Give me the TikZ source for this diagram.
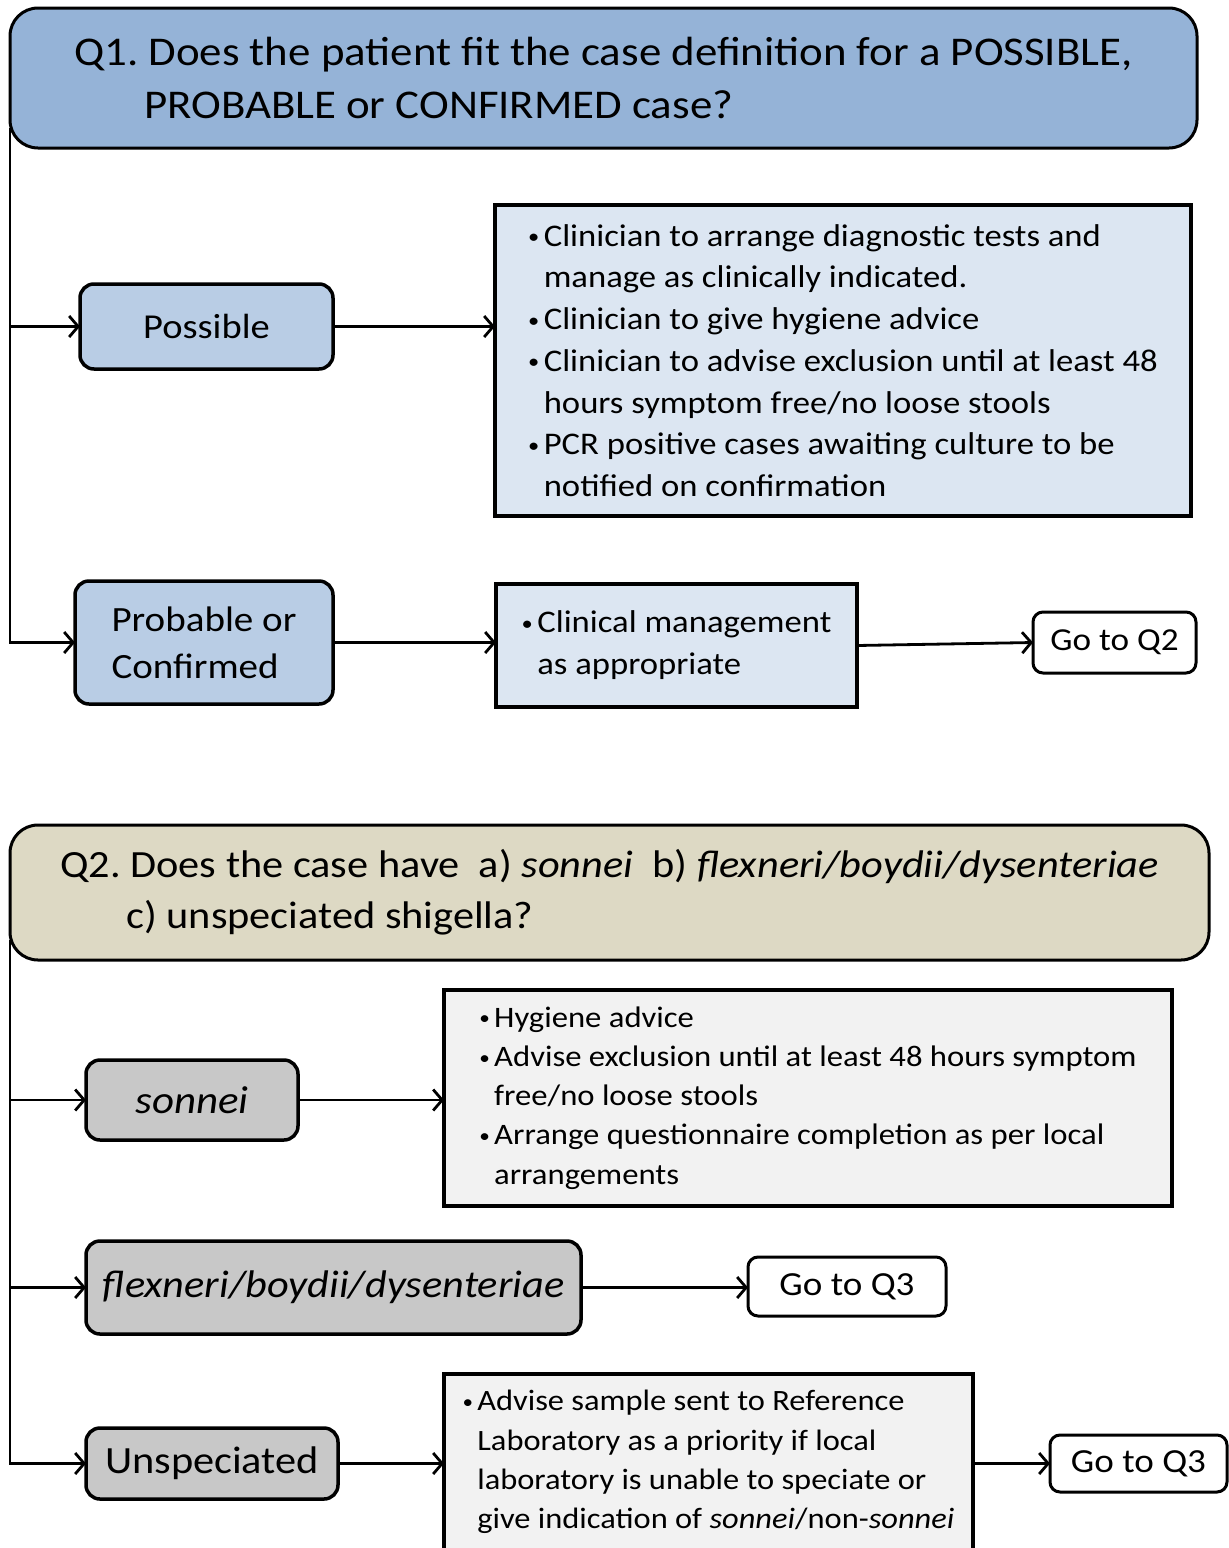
\documentclass[tikz,border=0pt]{standalone}
\usepackage{fontspec}
\setmainfont{Carlito}[FakeStretch=1.1]
\usetikzlibrary{arrows.meta, positioning}

\definecolor{qonefill}{HTML}{95B3D7}
\definecolor{casefill}{HTML}{B9CDE5}
\definecolor{adviceblue}{HTML}{DCE6F2}
\definecolor{qtwofill}{HTML}{DDD9C4}
\definecolor{typefill}{HTML}{C8C8C8}
\definecolor{advicegrey}{HTML}{F2F2F2}

\newcommand{\bul}{\makebox[0.5em][l]{\raisebox{0.08em}{\scalebox{0.65}{\textbullet}}}}
\newcommand{\ind}{\hspace*{0.5em}}
\frenchspacing

\begin{document}
\begin{tikzpicture}[x=1pt, y=-1pt,
    question/.style={draw, line width=3pt, rounded corners=28pt, anchor=north west, outer sep=0pt, inner sep=0pt, align=left},
    choice/.style={draw, line width=3.5pt, rounded corners=14pt, anchor=north west, outer sep=0pt, inner sep=0pt, align=center},
    advice/.style={draw, line width=3.5pt, anchor=north west, outer sep=0pt, inner sep=0pt, align=left},
    goto/.style={draw, line width=3pt, rounded corners=10pt, fill=white, anchor=north west, outer sep=0pt, inner sep=0pt, font=\fontsize{32}{38}\selectfont},
    conn/.style={line width=2.8pt, -{Straight Barb[length=9pt, width=21pt]}}]
    \useasboundingbox (0,0) rectangle (1229,1548);
    \clip (0,0) rectangle (1229,1548);

    % Q1
    \node[question, fill=qonefill, minimum width=1187pt, minimum height=140pt, font=\fontsize{40.8}{53}\selectfont] (q1) at (10,8)
        {Q1. Does the patient fit the case definition for a POSSIBLE,\\ \hspace*{70pt}PROBABLE or CONFIRMED case?};
    \node[choice, fill=casefill, minimum width=253pt, minimum height=85pt, font=\fontsize{35}{40}\selectfont] (poss) at (80,284) {Possible};
    \node[choice, fill=casefill, minimum width=258pt, minimum height=123pt, align=left, font=\fontsize{35.5}{47}\selectfont] (prob) at (75,581) {Probable or\\Confirmed};
    \node[advice, fill=adviceblue, minimum width=696pt, minimum height=311pt, font=\fontsize{31.5}{41.7}\selectfont] (diag) at (495,205)
        {\bul Clinician to arrange diagnostic tests and\\
         \ind manage as clinically indicated.\\
         \bul Clinician to give hygiene advice\\
         \bul Clinician to advise exclusion until at least 48\\
         \ind hours symptom free/no loose stools\\
         \bul PCR positive cases awaiting culture to be\\
         \ind notified on confirmation};
    \node[advice, fill=adviceblue, minimum width=361pt, minimum height=123pt, font=\fontsize{31.5}{42}\selectfont] (care) at (496,584)
        {\bul Clinical management\\ \ind as appropriate};
    \node[goto, minimum width=163pt, minimum height=61pt] (gotwo) at (1033,612) {Go to Q2};

    \draw[conn] ([yshift=20pt]q1.south west) |- (prob.west);
    \draw[conn] (q1.south west |- poss.west) -- (poss.west);
    \draw[conn] (poss.east) -- (poss.east -| diag.west);
    \draw[conn] (prob.east) -- (prob.east -| care.west);
    \draw[conn] (care.east) -- (gotwo.west);

    % Q2
    \node[question, fill=qtwofill, minimum width=1199pt, minimum height=135pt, font=\fontsize{38.5}{51}\selectfont] (q2) at (10,825)
        {Q2. Does the case have \ a) \textit{sonnei} \ b) \textit{flexneri/boydii/dysenteriae}\\ \hspace*{66pt}c) unspeciated shigella?};
    \node[choice, fill=typefill, minimum width=212pt, minimum height=80pt, font=\fontsize{39}{44}\selectfont\itshape] (sonnei) at (86,1060) {sonnei};
    \node[choice, fill=typefill, minimum width=495pt, minimum height=93pt, font=\fontsize{38.5}{44}\selectfont\itshape] (flex) at (86,1241) {flexneri/boydii/dysenteriae};
    \node[choice, fill=typefill, minimum width=252pt, minimum height=71pt, font=\fontsize{38.5}{44}\selectfont] (unsp) at (86,1428) {Unspeciated};
    \node[advice, fill=advicegrey, minimum width=728pt, minimum height=216pt, font=\fontsize{29.7}{39.2}\selectfont] (hyg) at (444,990)
        {\bul Hygiene advice\\
         \bul Advise exclusion until at least 48 hours symptom\\
         \ind free/no loose stools\\
         \bul Arrange questionnaire completion as per local\\
         \ind arrangements};
    \node[goto, minimum width=198pt, minimum height=59pt, font=\fontsize{33.7}{40}\selectfont] (gthreea) at (748,1257) {Go to Q3};
    \node[advice, fill=advicegrey, minimum width=529pt, minimum height=176pt, font=\fontsize{29.5}{39.2}\selectfont] (refl) at (444,1374)
        {\bul Advise sample sent to Reference\\
         \ind Laboratory as a priority if local\\
         \ind laboratory is unable to speciate or\\
         \ind give indication of \textit{sonnei}/non-\textit{sonnei}};
    \node[goto, minimum width=177pt, minimum height=57pt, font=\fontsize{33.7}{40}\selectfont] (gthreeb) at (1050,1435) {Go to Q3};

    \draw[conn] ([yshift=20pt]q2.south west) |- (unsp.west);
    \draw[conn] (q2.south west |- sonnei.west) -- (sonnei.west);
    \draw[conn] (q2.south west |- flex.west) -- (flex.west);
    \draw[conn] (sonnei.east) -- (sonnei.east -| hyg.west);
    \draw[conn] (flex.east) -- (flex.east -| gthreea.west);
    \draw[conn] (unsp.east) -- (unsp.east -| refl.west);
    \draw[conn] (unsp.east -| refl.east) -- (gthreeb.west);
\end{tikzpicture}
\end{document}
